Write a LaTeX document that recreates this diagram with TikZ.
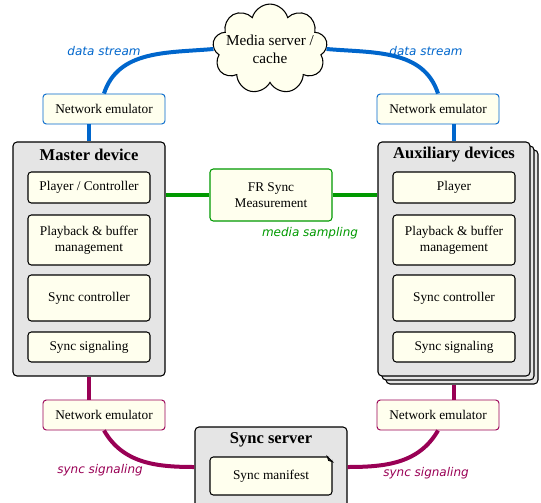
\documentclass[tikz,border=0pt]{standalone}
\usepackage{fontspec}
\setmainfont{Liberation Serif}
\newfontfamily\lblfont{DejaVu Sans}
\usepackage{tikz}
\usetikzlibrary{shapes.symbols}

\definecolor{streamblue}{RGB}{0,102,204}
\definecolor{syncgreen}{RGB}{0,153,0}
\definecolor{signalred}{RGB}{153,0,85}
\definecolor{paleyellow}{RGB}{255,255,238}
\definecolor{boxgray}{RGB}{229,229,229}

\tikzset{
  unit/.style={draw, line width=0.8pt, rounded corners=2.5pt, fill=paleyellow,
    minimum width=91.5pt, align=center, inner sep=2pt},
  netemu/.style={unit, line width=0.7pt, minimum height=22.5pt},
  device/.style={draw, line width=0.8pt, rounded corners=3pt, fill=boxgray,
    minimum width=114pt, minimum height=175.5pt},
  devtitle/.style={font=\fontsize{12.4}{14}\selectfont\bfseries},
  link/.style={line width=3pt},
  lbl/.style={font=\lblfont\fontsize{9}{10}\selectfont\itshape},
}

\begin{document}
\begin{tikzpicture}[x=0.75pt,y=-0.75pt]
\useasboundingbox (0,0) rectangle (541,502);

% media server and network emulators
\node[cloud, cloud puffs=9, aspect=1.55, draw, line width=0.8pt, fill=paleyellow,
  align=center, inner sep=-5.5pt,
  font=\fontsize{11.4}{13.5}\selectfont] (cloud) at (270,49)
  {Media server /\\cache};
\node[netemu, draw=streamblue] (neTL) at (104,109) {Network emulator};
\node[netemu, draw=streamblue] (neTR) at (438,109) {Network emulator};
\node[netemu, draw=signalred] (neBL) at (104,415) {Network emulator};
\node[netemu, draw=signalred] (neBR) at (438,415) {Network emulator};

% master device
\node[device] (master) at (89,259) {};
\node[devtitle] (mtitle) at (89,155) {Master device};
\node[unit, minimum height=23.25pt] (mplayer) at (89,187.5) {Player / Controller};
\node[unit, minimum height=37.5pt] (mbuffer) at (89,240) {Playback \& buffer\\management};
\node[unit, minimum height=34.5pt] (mctrl) at (89,298) {Sync controller};
\node[unit, minimum height=22.5pt] (msignal) at (89,347) {Sync signaling};

% auxiliary devices (stacked)
\node[device] (auxC) at (462,267) {};
\node[device] (auxB) at (458,263) {};
\node[device] (aux) at (454,259) {};
\node[devtitle] (atitle) at (454,155) {Auxiliary devices};
\node[unit, minimum height=23.25pt] (aplayer) at (454,187.5) {Player};
\node[unit, minimum height=37.5pt] (abuffer) at (454,240) {Playback \& buffer\\management};
\node[unit, minimum height=34.5pt] (actrl) at (454,298) {Sync controller};
\node[unit, minimum height=22.5pt] (asignal) at (454,347) {Sync signaling};

% measurement
\node[unit, draw=syncgreen, minimum height=39pt] (fr) at (271,195) {FR Sync\\Measurement};

% sync server
\node[device, minimum height=60pt] (sync) at (271,467) {};
\node[devtitle] (stitle) at (271,440) {Sync server};
\node[unit, minimum height=28.5pt] (manifest) at (271,476) {Sync manifest};
\fill[boxgray] ([xshift=-4pt]manifest.north east) -- (manifest.north east)
  -- ([yshift=-4pt]manifest.north east) -- cycle;
\draw[line width=0.6pt, fill=black!80] ([xshift=-4pt]manifest.north east)
  -- ([yshift=-4pt]manifest.north east) -- ([xshift=-3pt,yshift=-3pt]manifest.north east) -- cycle;

% data stream
\draw[link, streamblue] (neTL.north) to[out=72,in=185] (cloud.west);
\draw[link, streamblue] (cloud.east) to[out=-5,in=108] (neTR.north);
\draw[link, streamblue] (master.north) -- (master.north |- neTL.south);
\draw[link, streamblue] (aux.north) -- (aux.north |- neTR.south);

% media sampling
\draw[link, syncgreen] (master.east |- fr.west) -- (fr.west);
\draw[link, syncgreen] (fr.east) -- (aux.west |- fr.east);

% sync signaling
\draw[link, signalred] (master.south) -- (master.south |- neBL.north);
\draw[link, signalred] (auxC.south -| aux.south) -- (aux.south |- neBR.north);
\draw[link, signalred] (neBL.south) to[out=-60,in=180] (sync.west);
\draw[link, signalred] (neBR.south) to[out=-120,in=0] (sync.east);

% labels
\node[lbl, text=streamblue] (dsL) at (104,51) {data stream};
\node[lbl, text=streamblue] (dsR) at (426,51) {data stream};
\node[lbl, text=syncgreen] (ms) at (310,233) {media sampling};
\node[lbl, text=signalred] (ssL) at (100,470) {sync signaling};
\node[lbl, text=signalred] (ssR) at (426,473) {sync signaling};
\end{tikzpicture}
\end{document}
